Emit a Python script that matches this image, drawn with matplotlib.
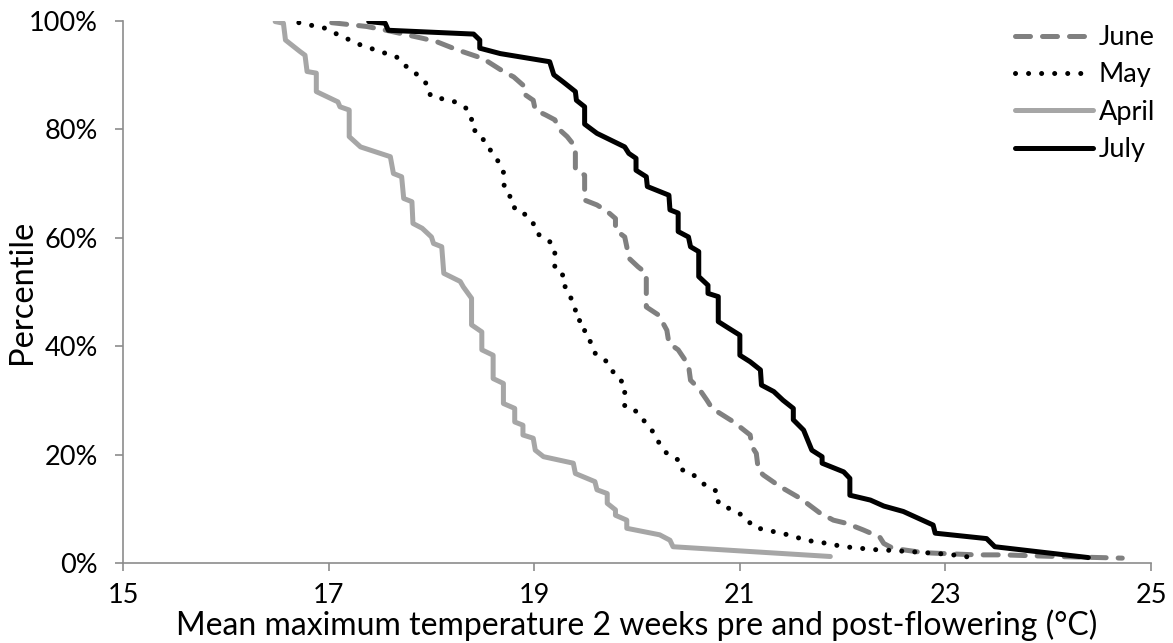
import matplotlib
matplotlib.use('Agg')
import matplotlib.pyplot as plt
from matplotlib.ticker import PercentFormatter

plt.rcParams['font.family'] = ['Lato', 'DejaVu Sans']

# (temperature degC, percentile %)
june = [(17.03, 99.6), (17.37, 98.9), (17.56, 98.2), (17.92, 96.7), (18.05, 96.1),
        (18.25, 94.6), (18.50, 93.0), (18.60, 91.8), (18.70, 90.6), (18.80, 89.6),
        (18.89, 88.1), (18.89, 86.6), (18.99, 85.3), (19.01, 83.5), (19.11, 82.6),
        (19.20, 81.7), (19.25, 79.8), (19.32, 78.6), (19.40, 76.7), (19.40, 72.4),
        (19.49, 71.5), (19.49, 66.9), (19.61, 66.0), (19.71, 64.8), (19.79, 63.5),
        (19.79, 61.4), (19.88, 60.1), (19.90, 58.3), (19.92, 56.2), (20.01, 54.6),
        (20.09, 53.4), (20.09, 47.2), (20.21, 45.7), (20.29, 42.9), (20.31, 40.5),
        (20.40, 39.3), (20.50, 36.5), (20.52, 33.7), (20.60, 32.2), (20.68, 30.0),
        (20.73, 28.5), (20.94, 26.0), (21.10, 23.6), (21.12, 21.4), (21.16, 20.2),
        (21.18, 17.1), (21.23, 16.2), (21.39, 14.1), (21.59, 11.9), (21.78, 9.2),
        (21.91, 7.9), (22.04, 7.3), (22.20, 6.1), (22.36, 4.8), (22.40, 3.6),
        (22.49, 2.7), (22.79, 1.9), (23.04, 1.7), (23.30, 1.5), (23.56, 1.5),
        (24.08, 1.2), (24.72, 0.9)]

may = [(16.71, 99.6), (16.96, 98.6), (17.08, 97.5), (17.31, 95.5), (17.53, 94.1),
       (17.66, 93.3), (17.73, 91.8), (17.82, 90.9), (17.89, 89.3), (17.97, 88.1),
       (17.99, 86.1), (18.12, 85.5), (18.23, 85.0), (18.34, 83.8), (18.39, 82.2),
       (18.39, 80.1), (18.49, 78.9), (18.52, 77.1), (18.59, 75.8), (18.65, 74.0),
       (18.70, 72.4), (18.70, 70.3), (18.72, 68.4), (18.80, 66.9), (18.81, 65.1),
       (18.93, 64.1), (18.99, 62.6), (19.02, 60.8), (19.14, 59.5), (19.20, 58.0),
       (19.20, 54.0), (19.30, 52.8), (19.30, 50.6), (19.35, 49.1), (19.40, 47.2),
       (19.40, 45.1), (19.49, 44.2), (19.49, 42.0), (19.56, 40.5), (19.59, 38.7),
       (19.69, 37.4), (19.75, 35.9), (19.79, 34.3), (19.88, 33.1), (19.88, 28.8),
       (20.00, 27.9), (20.06, 26.4), (20.13, 24.8), (20.19, 23.3), (20.22, 21.8),
       (20.29, 20.2), (20.40, 19.0), (20.42, 17.3), (20.53, 16.6), (20.60, 15.3),
       (20.68, 14.1), (20.79, 13.1), (20.79, 11.0), (20.89, 10.1), (20.99, 9.2),
       (21.07, 8.1), (21.13, 6.6), (21.26, 6.1), (21.37, 5.6), (21.52, 5.0),
       (21.63, 4.2), (21.76, 3.9), (21.88, 3.5), (22.01, 3.0), (22.14, 2.8),
       (22.27, 2.5), (22.40, 2.4), (22.66, 2.1), (23.03, 1.6), (23.16, 1.3),
       (23.29, 0.9)]

april = [(16.48, 99.8), (16.56, 99.5), (16.58, 96.4), (16.72, 94.3), (16.77, 93.6),
         (16.79, 90.6), (16.88, 90.3), (16.88, 86.9), (17.09, 85.0), (17.11, 84.1),
         (17.20, 83.5), (17.20, 78.6), (17.31, 76.7), (17.60, 74.9), (17.63, 71.8),
         (17.71, 71.2), (17.73, 67.2), (17.81, 66.6), (17.82, 62.6), (17.91, 61.7),
         (18.00, 60.1), (18.02, 58.9), (18.10, 58.3), (18.12, 53.4), (18.28, 51.9),
         (18.31, 50.9), (18.39, 48.8), (18.39, 43.9), (18.49, 42.6), (18.49, 39.3),
         (18.60, 38.3), (18.60, 34.0), (18.70, 33.1), (18.70, 29.4), (18.81, 28.5),
         (18.81, 26.0), (18.89, 25.4), (18.89, 23.6), (18.99, 23.0), (19.01, 20.8),
         (19.09, 19.6), (19.38, 18.4), (19.40, 16.5), (19.59, 15.0), (19.61, 13.5),
         (19.71, 12.8), (19.71, 11.0), (19.79, 9.8), (19.79, 8.8), (19.90, 7.9),
         (19.90, 6.4), (20.22, 5.2), (20.32, 4.2), (20.35, 3.0), (21.88, 1.2)]

july = [(17.39, 99.8), (17.55, 99.5), (17.58, 98.2), (18.41, 97.5), (18.47, 96.4),
        (18.47, 94.9), (18.67, 93.9), (19.15, 92.4), (19.19, 90.0), (19.28, 88.7),
        (19.40, 86.9), (19.41, 85.3), (19.49, 84.1), (19.49, 80.9), (19.61, 79.2),
        (19.88, 76.7), (19.92, 75.5), (19.99, 74.6), (19.99, 72.4), (20.09, 71.2),
        (20.10, 69.4), (20.31, 67.8), (20.32, 65.1), (20.40, 64.5), (20.40, 61.1),
        (20.50, 60.1), (20.52, 58.3), (20.60, 57.4), (20.60, 52.8), (20.69, 51.2),
        (20.69, 49.7), (20.79, 49.1), (20.79, 44.5), (20.89, 43.3), (21.00, 42.0),
        (21.00, 38.3), (21.10, 37.1), (21.20, 35.6), (21.21, 32.8), (21.33, 31.6),
        (21.42, 30.0), (21.52, 28.5), (21.52, 26.4), (21.62, 24.5), (21.70, 20.8),
        (21.80, 19.6), (21.80, 18.4), (22.01, 16.8), (22.07, 15.6), (22.07, 12.5),
        (22.27, 11.6), (22.40, 10.5), (22.59, 9.5), (22.88, 7.0), (22.90, 5.5),
        (23.40, 4.5), (23.48, 3.0), (24.39, 1.0)]

series = [
    ('June', june, (0, (3.0, 2.4)), '#808080'),
    ('May', may, (0, (0.01, 2.6)), 'black'),
    ('April', april, '-', '#a6a6a6'),
    ('July', july, '-', 'black'),
]

x_ticks = [15, 17, 19, 21, 23, 25]
y_ticks = [0, 20, 40, 60, 80, 100]


def do_plot():
    fig = plt.figure(figsize=(11.73, 6.43), dpi=100)
    ax = fig.add_axes([0.1049, 0.1244, 0.8764, 0.8437])
    for name, pts, style, color in series:
        temp = [p[0] for p in pts]
        pct = [p[1] for p in pts]
        ax.plot(temp, pct, linestyle=style, color=color, lw=3.6, label=name,
                dash_capstyle='round', solid_capstyle='round', solid_joinstyle='round')

    ax.set_xlim(15, 25)
    ax.set_ylim(0, 100)
    ax.set_xticks(x_ticks)
    ax.set_yticks(y_ticks)
    ax.yaxis.set_major_formatter(PercentFormatter(decimals=0))
    for side in ['top', 'right']:
        ax.spines[side].set_visible(False)
    for side in ['left', 'bottom']:
        ax.spines[side].set_color('#8c8c8c')
        ax.spines[side].set_linewidth(1.2)
    ax.tick_params(colors='#8c8c8c', labelcolor='black', length=5.5, width=1.2,
                   labelsize=19.5)
    ax.tick_params(axis='x', pad=9)
    ax.tick_params(axis='y', pad=12.5)

    ax.set_xlabel('Mean maximum temperature 2 weeks pre and post-flowering (°C)',
                  fontsize=23, labelpad=1)
    ax.set_ylabel('Percentile', fontsize=23.5, labelpad=-6)

    ax.legend(loc='upper right', bbox_to_anchor=(1155 / 1173, 1 - 25 / 643),
              bbox_transform=fig.transFigure, frameon=False,
              fontsize=19.5, handlelength=2.9, handletextpad=0.2, labelspacing=0.46,
              borderaxespad=0, borderpad=0)

    fig.savefig('out.png', dpi=100)


if __name__ == '__main__':
    do_plot()
